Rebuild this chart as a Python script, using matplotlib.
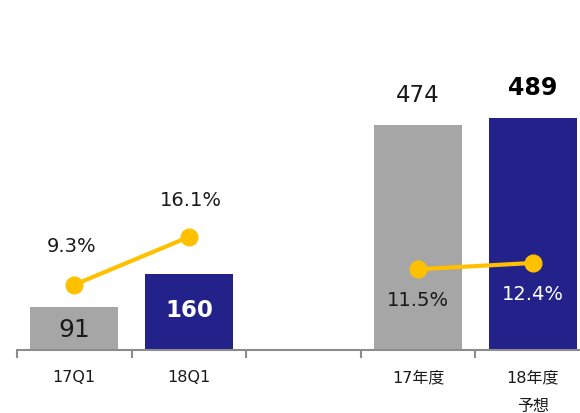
import matplotlib
matplotlib.use("Agg")
import matplotlib.pyplot as plt

plt.rcParams["font.family"] = ["DejaVu Sans", "Noto Sans CJK JP"]

# ---- data ----
categories = ["17Q1", "18Q1", "", "17年度", "18年度\n予想"]
bar_pos = [0, 1, 3, 4]
bar_values = [91, 160, 474, 489]
bar_colors = ["#A6A6A6", "#22228A", "#A6A6A6", "#22228A"]
q_pos, q_rate = [0, 1], [9.3, 16.1]
y_pos, y_rate = [3, 4], [11.5, 12.4]

GOLD = "#FFC000"
INK = "#1a1a1a"

fig = plt.figure(figsize=(5.8, 4.14), dpi=100)
ax = fig.add_axes([17 / 580, 63 / 414, 573 / 580, 351 / 414])
ax.bar(bar_pos, bar_values, width=0.77, color=bar_colors, zorder=2)
ax.set_xlim(-0.5, 4.5)
ax.set_ylim(0, 739)
for s in ("top", "right", "left"):
    ax.spines[s].set_visible(False)
ax.spines["bottom"].set_color("#8c8c8c")
ax.spines["bottom"].set_linewidth(1.5)
ax.set_yticks([])
ax.set_xticks(range(len(categories)))
ax.set_xticklabels(categories, fontsize=11.5, color=INK, linespacing=2.1,
                   va="top")
ax.tick_params(axis="x", which="major", length=0, pad=14)
ax.set_xticks([i - 0.5 for i in range(len(categories) + 1)], minor=True)
ax.tick_params(axis="x", which="minor", length=6, width=1.5, color="#8c8c8c")

# bar value labels
ax.text(0, 45, "91", ha="center", va="center", fontsize=18, color=INK)
ax.text(1, 86, "160", ha="center", va="center", fontsize=16.5,
        fontweight="bold", color="white")
ax.text(3, 538, "474", ha="center", va="center", fontsize=16.5, color=INK)
ax.text(4, 554, "489", ha="center", va="center", fontsize=17,
        fontweight="bold", color="black")

ax2 = ax.twinx()
ax2.set_ylim(0, 50)
ax2.axis("off")
ax2.plot(q_pos, q_rate, color=GOLD, lw=3, marker="o", ms=12, zorder=3)
ax2.plot(y_pos, y_rate, color=GOLD, lw=3, marker="o", ms=12, zorder=3)

ax2.text(q_pos[0] - 0.02, q_rate[0] + 5.6, f"{q_rate[0]}%", ha="center",
         va="center", fontsize=14, color=INK)
ax2.text(q_pos[1] + 0.02, q_rate[1] + 5.3, f"{q_rate[1]}%", ha="center",
         va="center", fontsize=14, color=INK)
ax2.text(y_pos[0], y_rate[0] - 4.3, f"{y_rate[0]}%", ha="center",
         va="center", fontsize=14, color=INK)
ax2.text(y_pos[1], y_rate[1] - 4.4, f"{y_rate[1]}%", ha="center",
         va="center", fontsize=14, color="white")

fig.savefig("out.png", dpi=100)
